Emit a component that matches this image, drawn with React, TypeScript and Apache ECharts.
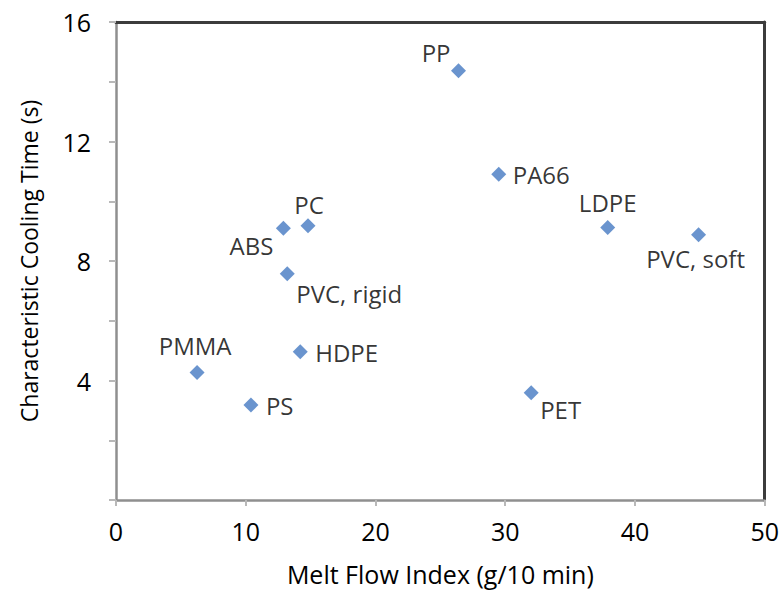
import React, { useEffect, useRef } from "react";
import * as echarts from "echarts";

const materials = ["PP", "PA66", "LDPE", "PVC, soft", "PC", "ABS", "PVC, rigid", "HDPE", "PMMA", "PS", "PET"];
const meltFlowIndex = [26.4, 29.5, 37.9, 44.9, 14.8, 12.9, 13.2, 14.2, 6.25, 10.4, 32.0];
const coolingTime = [14.37, 10.9, 9.12, 8.88, 9.18, 9.1, 7.57, 4.96, 4.27, 3.18, 3.59];
const yTickLabels = [4, 8, 12, 16];

// label placement: [dx, dy, align] relative to marker centre
const labelPlacement: [number, number, string][] = [
  [-8, -18, "right"],
  [14, 0, "left"],
  [0, -25, "center"],
  [-3, 24, "center"],
  [1, -21, "center"],
  [-10, 17, "right"],
  [9, 20, "left"],
  [15, 1, "left"],
  [-2, -27, "center"],
  [15, 1, "left"],
  [9, 17, "left"],
];

const FONT = "'Open Sans', sans-serif";

export default function App() {
  const ref = useRef<HTMLDivElement>(null);
  useEffect(() => {
    if (!ref.current) return;
    const chart = echarts.init(ref.current, null, { renderer: "svg" });
    const data = materials.map((name, i) => ({
      name,
      value: [meltFlowIndex[i], coolingTime[i]],
      label: {
        offset: [labelPlacement[i][0], labelPlacement[i][1]],
        align: labelPlacement[i][2],
      },
    }));
    chart.setOption({
      animation: false,
      backgroundColor: "#ffffff",
      grid: { left: 116, right: 17, top: 22, bottom: 89 },
      xAxis: [
        {
          type: "value",
          min: 0,
          max: 50,
          interval: 10,
          name: "Melt Flow Index (g/10 min)",
          nameLocation: "middle",
          nameGap: 61,
          nameTextStyle: { fontFamily: FONT, fontSize: 25, color: "#000" },
          axisLine: { show: true, lineStyle: { color: "#8f8f8f", width: 2.5 } },
          axisTick: { show: true, length: 6, lineStyle: { color: "#b8b8b8", width: 2 } },
          axisLabel: { margin: 18, fontFamily: FONT, fontSize: 25, color: "#000" },
          splitLine: { show: false },
        },
        {
          type: "value",
          position: "top",
          min: 0,
          max: 50,
          axisLine: { show: true, onZero: false, lineStyle: { color: "#3c3c3c", width: 3 } },
          axisTick: { show: false },
          axisLabel: { show: false },
          splitLine: { show: false },
        },
      ],
      yAxis: [
        {
          type: "value",
          min: 0,
          max: 16,
          interval: 2,
          name: "Characteristic Cooling Time (s)",
          nameLocation: "middle",
          nameGap: 76,
          nameTextStyle: { fontFamily: FONT, fontSize: 23, color: "#000" },
          axisLine: { show: true, lineStyle: { color: "#8f8f8f", width: 2.5 } },
          axisTick: { show: true, length: 7, lineStyle: { color: "#b8b8b8", width: 2 } },
          axisLabel: {
            margin: 25,
            fontFamily: FONT,
            fontSize: 25,
            color: "#000",
            formatter: (v: number) => (yTickLabels.includes(v) ? String(v) : ""),
          },
          splitLine: { show: false },
        },
        {
          type: "value",
          position: "right",
          min: 0,
          max: 16,
          axisLine: { show: true, onZero: false, lineStyle: { color: "#3c3c3c", width: 3 } },
          axisTick: { show: false },
          axisLabel: { show: false },
          splitLine: { show: false },
        },
      ],
      series: [
        {
          type: "scatter",
          xAxisIndex: 0,
          yAxisIndex: 0,
          symbol: "diamond",
          symbolSize: 15,
          itemStyle: { color: "#4579c2" },
          label: {
            show: true,
            position: "inside",
            formatter: "{b}",
            fontFamily: FONT,
            fontSize: 24,
            color: "#000",
            verticalAlign: "middle",
          },
          data,
        },
      ],
    });
    return () => chart.dispose();
  }, []);
  return (
    <div
      ref={ref}
      style={{ position: "absolute", left: 0, top: 0, width: 782, height: 591 }}
    />
  );
}
